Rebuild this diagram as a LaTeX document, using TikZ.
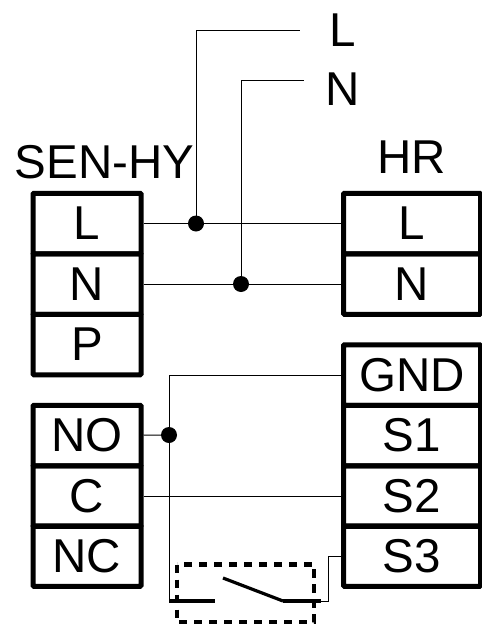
\documentclass[tikz,border=0pt]{standalone}
\usepackage{fontspec}
\setmainfont{Liberation Sans}
\begin{document}
\begin{tikzpicture}[x=1pt,y=-1pt,
 cell/.style={draw=black,line width=5pt,minimum height=60.5pt,inner sep=0pt,font=\fontsize{47.5}{47.5}\selectfont,anchor=center,rounded corners=1pt},
 cellA/.style={cell,minimum width=108pt},
 cellB/.style={cell,minimum width=137pt},
 lab/.style={inner sep=0pt,font=\fontsize{47.5}{47.5}\selectfont},
 wire/.style={draw=black,line width=0.9pt},
 dot/.style={circle,fill=black,draw=none,minimum size=16pt,inner sep=0pt}]
\useasboundingbox (0,0) rectangle (482,624);
\fill[white] (0,0) rectangle (482,624);
\node[cellA] (aL) at (87,223.5) {L};
\node[cellA] (aN) at (87,284) {N};
\node[cellA] (aP) at (87,344.5) {P};
\node[cellA] (bNO) at (87,435.5) {NO};
\node[cellA] (bC) at (87,496) {C};
\node[cellA] (bNC) at (87,556) {NC};
\node[cellB] (hL) at (412,223.5) {L};
\node[cellB] (hN) at (412,284) {N};
\node[cellB] (gnd) at (412,375) {GND};
\node[cellB] (s1) at (412,435.5) {S1};
\node[cellB] (s2) at (412,496) {S2};
\node[cellB] (s3) at (412,556) {S3};
\node[lab] (tL) at (343,30) {L};
\node[lab] (tN) at (343,89) {N};
\node[lab] (t1) at (104.5,162) {SEN-HY};
\node[lab] (t2) at (412,157) {HR};
\coordinate (fL) at (300,30);
\coordinate (fN) at (304,80);
\node[dot] (d1) at (196,223.5) {};
\node[dot] (d2) at (241,284) {};
\node[dot] (d3) at (169,435) {};
\draw[wire] (aL) -- (hL);
\draw[wire] (aN) -- (hN);
\draw[wire] (bC) -- (s2);
\draw[wire] (bNO) -- (d3);
\draw[wire] (d1.center) -- (196,30) -- (fL);
\draw[wire] (d2.center) -- (241,80) -- (fN);
\draw[wire] (gnd.west) -- (169.5,375) -- (169.5,601);
\draw[wire] (s3.west) -- (328,556) -- (328,601) -- (320,601);
\draw[line width=4.5pt,dash pattern=on 8.3pt off 6.7pt] (177,564.5) rectangle (314,622.5);
\draw[line width=4.5pt] (169,601) -- (215,601);
\draw[line width=4.5pt] (283,601) -- (321,601);
\draw[line width=3.2pt] (223,578) -- (283,601);
\end{tikzpicture}
\end{document}
